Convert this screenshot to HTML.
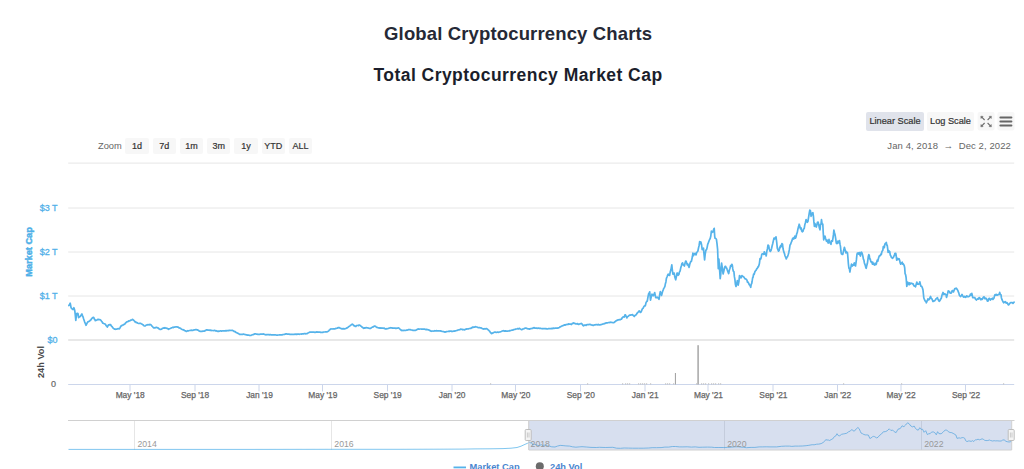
<!DOCTYPE html>
<html><head><meta charset="utf-8"><title>Global Cryptocurrency Charts</title>
<style>
html,body{margin:0;padding:0;background:#fff;}
body{width:1024px;height:469px;position:relative;overflow:hidden;font-family:"Liberation Sans",sans-serif;}
.t{position:absolute;white-space:nowrap;line-height:1;}
.h1{left:0;width:1036.3px;text-align:center;top:24.5px;font-size:18.5px;font-weight:bold;color:#262936;letter-spacing:0.14px}
.h2{left:0;width:1036px;text-align:center;top:66.5px;font-size:17.5px;font-weight:bold;color:#1b1e2b;letter-spacing:0.46px}
.btn{position:absolute;top:138px;height:15.5px;width:23.3px;background:#f7f7f7;border-radius:2px;text-align:center;font-size:9px;line-height:16.6px;color:#333;-webkit-text-stroke:0.2px #333;}
.sbtn{position:absolute;top:112px;height:18.5px;border-radius:2px;text-align:center;font-size:9.2px;line-height:19px;color:#333;-webkit-text-stroke:0.2px #333;background:#f7f7f7}
.yl{position:absolute;right:966.5px;font-size:9px;line-height:10px;color:#52b1e9;white-space:nowrap;-webkit-text-stroke:0.3px #52b1e9}
.xl{position:absolute;top:389.9px;font-size:8.4px;line-height:10px;color:#666;white-space:nowrap;transform:translateX(-50%);-webkit-text-stroke:0.25px #666}
.nl{position:absolute;top:438.6px;font-size:8.7px;line-height:10px;color:#999;white-space:nowrap}
.rot{position:absolute;white-space:nowrap;font-weight:bold;font-size:9.2px;line-height:10px;transform:translate(-50%,-50%) rotate(-90deg);}
.lg{position:absolute;top:462.1px;font-size:9.3px;line-height:10.5px;font-weight:bold;color:#4a86cf;white-space:nowrap}
</style></head><body>
<svg width="1024" height="469" viewBox="0 0 1024 469" style="position:absolute;left:0;top:0">
<g stroke="#e6e6e6" stroke-width="1">
<line x1="68.2" x2="1014.2" y1="163.1" y2="163.1"/>
<line x1="68.2" x2="1014.2" y1="208" y2="208"/>
<line x1="68.2" x2="1014.2" y1="252" y2="252"/>
<line x1="68.2" x2="1014.2" y1="296" y2="296"/>
</g>
<line x1="68.2" x2="1014.2" y1="340" y2="340" stroke="#e8e8e8" stroke-width="2"/>
<g stroke="#ccd6eb" stroke-width="1">
<line x1="68.2" x2="1014.2" y1="384.5" y2="384.5"/>
<line x1="130.0" x2="130.0" y1="384.5" y2="391.4"/>
<line x1="195.0" x2="195.0" y1="384.5" y2="391.4"/>
<line x1="259.0" x2="259.0" y1="384.5" y2="391.4"/>
<line x1="322.5" x2="322.5" y1="384.5" y2="391.4"/>
<line x1="387.5" x2="387.5" y1="384.5" y2="391.4"/>
<line x1="452.0" x2="452.0" y1="384.5" y2="391.4"/>
<line x1="515.5" x2="515.5" y1="384.5" y2="391.4"/>
<line x1="580.5" x2="580.5" y1="384.5" y2="391.4"/>
<line x1="645.0" x2="645.0" y1="384.5" y2="391.4"/>
<line x1="708.0" x2="708.0" y1="384.5" y2="391.4"/>
<line x1="773.0" x2="773.0" y1="384.5" y2="391.4"/>
<line x1="837.5" x2="837.5" y1="384.5" y2="391.4"/>
<line x1="901.0" x2="901.0" y1="384.5" y2="391.4"/>
<line x1="965.5" x2="965.5" y1="384.5" y2="391.4"/>
</g>
<g fill="#a6a6a6">
<rect x="697.35" y="345.2" width="1.5" height="39.3"/>
<rect x="674.9" y="373" width="1.1" height="11.5"/>
</g>
<g fill="#c2c2c2">
<rect x="587" y="383.3" width="1.2" height="1.2"/>
<rect x="622" y="383.3" width="1.2" height="1.2"/>
<rect x="625" y="383.3" width="1.2" height="1.2"/>
<rect x="627" y="383.3" width="1.2" height="1.2"/>
<rect x="629" y="383.3" width="1.2" height="1.2"/>
<rect x="638" y="383.3" width="1.2" height="1.2"/>
<rect x="640" y="383.3" width="1.2" height="1.2"/>
<rect x="642" y="383.3" width="1.2" height="1.2"/>
<rect x="644" y="383.3" width="1.2" height="1.2"/>
<rect x="646" y="383.3" width="1.2" height="1.2"/>
<rect x="650" y="383.3" width="1.2" height="1.2"/>
<rect x="665" y="383.3" width="1.2" height="1.2"/>
<rect x="667" y="383.3" width="1.2" height="1.2"/>
<rect x="669" y="383.3" width="1.2" height="1.2"/>
<rect x="673" y="383.3" width="1.2" height="1.2"/>
<rect x="696" y="383.3" width="1.2" height="1.2"/>
<rect x="701" y="383.3" width="1.2" height="1.2"/>
<rect x="703" y="383.3" width="1.2" height="1.2"/>
<rect x="705" y="383.3" width="1.2" height="1.2"/>
<rect x="708" y="383.3" width="1.2" height="1.2"/>
<rect x="711" y="383.3" width="1.2" height="1.2"/>
<rect x="713" y="383.3" width="1.2" height="1.2"/>
<rect x="715" y="383.3" width="1.2" height="1.2"/>
<rect x="718" y="383.3" width="1.2" height="1.2"/>
<rect x="720" y="383.3" width="1.2" height="1.2"/>
<rect x="490" y="383.3" width="1.2" height="1.2"/>
<rect x="843" y="383.3" width="1.2" height="1.2"/>
<rect x="901" y="383.3" width="1.2" height="1.2"/>
<rect x="1003" y="383.3" width="1.2" height="1.2"/>
</g>
<path d="M68.9,305.6 L69.6,304.6 L70.2,303.2 L70.7,305.6 L71.1,307.8 L71.8,308.4 L72.4,309.3 L73.0,309.6 L73.5,308.9 L73.9,307.7 L74.4,309.3 L74.8,310.8 L75.3,315.1 L75.8,320.5 L76.2,317.1 L76.7,313.6 L77.3,313.4 L78.0,313.6 L78.6,317.6 L79.2,317.1 L79.8,316.8 L80.4,316.2 L80.9,315.6 L81.4,314.6 L81.9,314.0 L82.5,315.6 L83.0,316.8 L83.6,318.8 L84.1,320.2 L84.7,322.1 L85.4,323.6 L86.0,325.3 L86.6,324.1 L87.2,322.9 L87.8,321.9 L88.5,321.7 L89.1,321.3 L89.7,321.0 L90.2,320.3 L90.8,320.0 L91.4,319.0 L91.9,318.4 L92.5,317.8 L93.1,317.3 L93.8,317.6 L94.3,319.0 L94.8,319.4 L95.3,320.6 L95.8,320.5 L96.4,320.1 L96.9,320.1 L97.5,319.8 L98.0,319.2 L98.6,319.6 L99.2,319.6 L99.8,319.7 L100.4,319.8 L101.0,320.5 L101.6,321.3 L102.1,321.9 L102.7,323.1 L103.2,323.2 L103.8,323.5 L104.3,323.7 L104.9,324.0 L105.5,324.3 L106.1,325.6 L106.7,326.1 L107.3,327.0 L108.0,325.8 L108.6,324.8 L109.2,324.9 L109.9,324.6 L110.5,324.5 L111.1,325.7 L111.7,326.3 L112.3,326.9 L112.9,327.9 L113.5,328.5 L114.1,328.8 L114.7,329.2 L115.3,329.2 L115.9,329.3 L116.5,329.1 L117.1,329.0 L117.6,328.9 L118.2,328.6 L118.8,328.8 L119.4,328.8 L120.0,327.9 L120.6,326.6 L121.2,325.8 L121.8,325.8 L122.3,325.1 L122.9,325.0 L123.5,325.0 L124.0,324.3 L124.6,324.2 L125.1,323.6 L125.7,322.9 L126.2,322.4 L126.8,321.9 L127.4,321.7 L127.9,321.7 L128.5,321.1 L129.0,320.9 L129.6,321.0 L130.1,320.6 L130.7,320.0 L131.2,320.1 L131.8,320.0 L132.4,319.4 L132.9,319.5 L133.5,320.2 L134.0,320.7 L134.6,321.2 L135.1,322.0 L135.7,321.9 L136.3,322.6 L136.8,322.5 L137.4,322.7 L137.9,323.3 L138.5,323.5 L139.0,323.5 L139.6,323.4 L140.2,323.3 L140.7,323.3 L141.2,323.7 L141.8,324.0 L142.3,324.4 L142.8,324.8 L143.4,325.1 L143.9,325.6 L144.4,326.0 L145.0,326.0 L145.5,325.7 L146.0,325.3 L146.5,325.0 L147.1,324.9 L147.6,324.9 L148.1,324.5 L148.7,324.7 L149.2,325.0 L149.8,324.4 L150.4,324.5 L150.9,324.8 L151.5,325.5 L152.0,326.1 L152.6,326.6 L153.1,327.4 L153.7,327.9 L154.3,327.7 L154.8,328.0 L155.4,327.7 L155.9,327.4 L156.5,327.3 L157.0,327.6 L157.5,327.9 L158.1,327.9 L158.6,328.4 L159.1,329.0 L159.7,329.1 L160.2,329.5 L160.7,329.4 L161.3,329.2 L161.8,329.1 L162.3,328.4 L162.8,328.2 L163.4,328.0 L163.9,327.9 L164.5,328.1 L165.0,327.7 L165.6,328.1 L166.1,328.0 L166.7,328.3 L167.3,328.4 L167.9,328.8 L168.5,329.3 L169.1,328.9 L169.6,328.7 L170.1,328.5 L170.7,328.2 L171.2,327.9 L171.7,327.8 L172.3,327.6 L172.8,327.3 L173.4,327.6 L174.0,327.1 L174.6,327.2 L175.2,327.0 L175.7,326.9 L176.3,326.9 L176.9,326.8 L177.4,327.1 L178.0,327.1 L178.5,327.3 L179.0,327.8 L179.5,327.9 L180.1,328.2 L180.6,328.3 L181.2,329.0 L181.7,329.3 L182.3,329.6 L182.8,329.6 L183.4,329.9 L183.9,330.0 L184.5,330.5 L185.1,330.9 L185.6,330.9 L186.2,331.4 L186.7,331.3 L187.2,331.0 L187.8,330.7 L188.3,330.9 L188.8,330.7 L189.4,330.5 L189.9,330.5 L190.4,330.4 L191.0,330.5 L191.5,330.2 L192.0,330.3 L192.6,330.3 L193.1,330.3 L193.7,330.0 L194.2,329.8 L194.8,329.9 L195.3,329.7 L195.8,329.7 L196.4,329.7 L196.9,329.8 L197.4,329.8 L198.0,330.2 L198.5,330.3 L199.0,330.9 L199.6,331.2 L200.1,331.3 L200.6,331.3 L201.1,331.4 L201.7,331.3 L202.2,331.3 L202.7,331.2 L203.3,331.2 L203.8,331.2 L204.4,331.1 L204.9,330.7 L205.5,330.6 L206.0,330.1 L206.6,329.9 L207.2,329.8 L207.7,330.2 L208.3,330.0 L208.9,330.2 L209.4,330.2 L210.0,330.3 L210.6,330.2 L211.1,330.3 L211.7,330.6 L212.3,330.5 L212.9,330.5 L213.4,330.6 L214.0,330.5 L214.5,330.4 L215.1,330.6 L215.6,330.9 L216.1,330.7 L216.7,330.9 L217.2,331.2 L217.7,331.3 L218.3,331.2 L218.8,331.3 L219.4,331.2 L219.9,331.0 L220.4,330.9 L221.0,330.9 L221.5,331.1 L222.1,331.0 L222.6,330.9 L223.2,330.9 L223.7,330.8 L224.3,330.9 L224.8,330.8 L225.4,330.9 L225.9,330.6 L226.4,330.8 L227.0,330.7 L227.5,330.5 L228.1,330.7 L228.7,330.6 L229.2,330.4 L229.8,330.4 L230.3,330.5 L230.9,330.4 L231.4,330.5 L232.0,330.4 L232.6,330.4 L233.1,330.7 L233.6,331.1 L234.1,331.4 L234.7,331.6 L235.2,331.7 L235.7,332.2 L236.3,332.6 L236.8,332.8 L237.3,333.0 L237.9,333.4 L238.4,333.5 L238.9,333.8 L239.5,334.3 L240.0,334.4 L240.5,334.4 L241.0,334.5 L241.6,334.3 L242.1,334.3 L242.6,334.3 L243.2,334.2 L243.7,334.2 L244.2,334.3 L244.8,334.5 L245.3,334.6 L245.8,334.7 L246.3,334.8 L246.9,334.9 L247.4,335.1 L248.0,335.2 L248.5,335.2 L249.1,335.2 L249.6,335.5 L250.2,335.5 L250.8,335.5 L251.3,335.1 L251.9,335.0 L252.5,334.8 L253.1,334.6 L253.7,334.4 L254.3,334.1 L254.8,333.9 L255.4,333.8 L255.9,334.0 L256.4,334.1 L257.0,334.1 L257.5,334.3 L258.0,334.4 L258.6,334.3 L259.1,334.3 L259.7,334.3 L260.3,334.2 L260.9,334.2 L261.5,334.1 L262.0,334.2 L262.6,334.2 L263.2,333.9 L263.8,334.0 L264.3,334.4 L264.9,334.5 L265.4,334.7 L266.0,334.8 L266.5,334.7 L267.1,334.7 L267.6,334.6 L268.2,334.6 L268.8,334.7 L269.3,334.8 L269.9,334.7 L270.4,334.7 L271.0,334.8 L271.5,334.8 L272.1,334.8 L272.7,334.8 L273.2,334.8 L273.8,334.9 L274.3,334.9 L274.9,334.9 L275.4,334.9 L276.0,335.0 L276.6,335.1 L277.1,335.1 L277.7,335.1 L278.2,335.0 L278.8,335.0 L279.3,334.9 L279.9,334.9 L280.4,334.9 L281.0,334.9 L281.6,334.8 L282.1,334.8 L282.7,334.7 L283.2,334.5 L283.7,334.5 L284.3,334.3 L284.8,334.3 L285.3,334.1 L285.9,333.9 L286.4,333.8 L286.9,334.1 L287.5,334.1 L288.1,334.0 L288.6,334.1 L289.2,334.2 L289.7,334.3 L290.3,334.3 L290.8,334.4 L291.4,334.4 L292.0,334.4 L292.5,334.4 L293.1,334.5 L293.6,334.4 L294.2,334.4 L294.7,334.2 L295.3,334.2 L295.8,334.3 L296.4,334.2 L297.0,334.3 L297.5,334.2 L298.1,334.2 L298.6,334.1 L299.2,334.3 L299.7,334.2 L300.3,334.0 L300.9,334.0 L301.4,334.1 L302.0,333.9 L302.5,333.9 L303.1,333.9 L303.6,333.8 L304.1,333.7 L304.7,333.7 L305.2,333.7 L305.7,333.8 L306.3,333.7 L306.8,333.7 L307.4,333.4 L307.9,333.1 L308.5,332.8 L309.0,332.5 L309.6,332.1 L310.2,332.2 L310.7,332.1 L311.3,332.1 L311.9,332.2 L312.5,332.1 L313.1,332.2 L313.6,332.1 L314.2,332.2 L314.7,332.3 L315.3,332.3 L315.8,332.2 L316.3,332.1 L316.9,331.9 L317.4,332.1 L317.9,332.0 L318.5,332.2 L319.0,332.1 L319.5,332.2 L320.1,332.1 L320.6,332.4 L321.1,332.5 L321.6,332.4 L322.2,332.4 L322.8,332.4 L323.3,332.1 L323.9,332.0 L324.4,332.0 L325.0,331.9 L325.5,331.8 L326.1,331.9 L326.7,331.8 L327.2,331.8 L327.7,331.5 L328.3,331.2 L328.8,330.8 L329.3,330.1 L329.9,329.7 L330.4,329.2 L330.9,328.8 L331.4,328.9 L332.0,329.0 L332.5,329.0 L333.0,328.8 L333.6,328.8 L334.1,328.9 L334.6,328.9 L335.2,328.7 L335.7,328.6 L336.2,328.3 L336.7,328.3 L337.3,328.1 L337.8,327.9 L338.3,327.6 L338.9,327.8 L339.4,327.6 L339.9,328.0 L340.5,328.3 L341.0,328.4 L341.5,328.7 L342.1,329.0 L342.6,328.7 L343.1,328.8 L343.6,328.7 L344.2,328.8 L344.7,328.8 L345.2,328.7 L345.8,328.5 L346.3,328.2 L346.8,327.9 L347.4,327.8 L347.9,327.4 L348.4,326.9 L348.9,326.5 L349.5,326.2 L350.0,325.8 L350.6,325.2 L351.1,324.9 L351.7,324.5 L352.3,324.1 L352.8,324.6 L353.3,324.9 L353.8,325.7 L354.4,325.7 L354.9,326.2 L355.4,326.5 L355.9,326.4 L356.5,325.6 L357.0,325.5 L357.5,325.5 L358.1,325.4 L358.6,325.6 L359.1,325.1 L359.7,325.0 L360.2,325.5 L360.7,326.0 L361.3,326.4 L361.8,326.8 L362.3,327.3 L362.9,327.6 L363.4,328.4 L363.9,328.0 L364.5,327.9 L365.1,328.1 L365.6,327.7 L366.2,327.5 L366.7,327.8 L367.2,327.8 L367.8,327.8 L368.3,328.0 L368.8,328.2 L369.4,328.4 L369.9,328.4 L370.5,328.4 L371.0,328.1 L371.6,327.6 L372.2,327.3 L372.8,326.9 L373.4,326.8 L373.9,326.3 L374.5,326.1 L375.1,326.2 L375.6,326.4 L376.1,326.9 L376.6,327.3 L377.2,327.4 L377.7,327.5 L378.2,328.0 L378.8,327.9 L379.3,327.9 L379.8,328.1 L380.4,328.1 L380.9,327.9 L381.4,328.2 L381.9,328.0 L382.5,328.2 L383.1,328.1 L383.7,328.3 L384.3,328.2 L384.8,328.7 L385.4,328.9 L386.0,328.8 L386.6,328.8 L387.1,328.5 L387.6,328.7 L388.2,328.5 L388.7,328.3 L389.2,328.1 L389.8,328.0 L390.3,327.7 L390.8,327.9 L391.4,327.8 L391.9,327.9 L392.4,328.1 L392.9,328.2 L393.5,328.2 L394.0,328.1 L394.6,328.2 L395.2,328.1 L395.7,328.4 L396.3,328.3 L396.9,328.2 L397.5,328.1 L398.1,328.0 L398.6,327.9 L399.2,328.4 L399.8,329.0 L400.3,329.5 L400.9,329.9 L401.4,330.6 L402.0,330.3 L402.5,330.3 L403.0,330.7 L403.5,330.3 L404.1,330.3 L404.6,330.4 L405.1,330.5 L405.7,330.4 L406.2,330.2 L406.7,330.2 L407.3,330.1 L407.8,330.0 L408.3,329.6 L408.8,329.5 L409.4,329.7 L409.9,329.7 L410.5,329.7 L411.0,330.0 L411.6,330.0 L412.1,330.1 L412.6,330.3 L413.2,330.3 L413.7,330.4 L414.3,330.4 L414.8,330.3 L415.3,330.4 L415.9,330.2 L416.5,329.8 L417.0,329.5 L417.6,329.4 L418.1,328.9 L418.7,329.0 L419.3,329.2 L419.9,329.0 L420.4,329.0 L421.0,329.0 L421.6,329.2 L422.2,329.1 L422.8,329.1 L423.3,329.0 L423.8,329.1 L424.4,329.2 L424.9,329.1 L425.4,329.5 L425.9,329.6 L426.5,329.4 L427.1,329.6 L427.7,329.7 L428.3,329.8 L428.9,330.1 L429.4,330.1 L429.9,330.5 L430.5,331.0 L431.0,331.1 L431.5,331.3 L432.1,331.1 L432.6,331.0 L433.2,331.0 L433.7,331.1 L434.3,330.9 L434.8,330.7 L435.4,331.0 L436.0,330.8 L436.5,330.7 L437.1,330.8 L437.6,330.9 L438.2,330.8 L438.7,330.8 L439.3,330.9 L439.9,331.0 L440.4,330.9 L441.0,331.1 L441.6,331.2 L442.1,331.4 L442.7,331.5 L443.3,331.6 L443.9,331.7 L444.5,331.9 L445.0,332.1 L445.6,331.9 L446.1,331.8 L446.6,331.6 L447.2,331.5 L447.7,331.5 L448.2,331.5 L448.8,331.2 L449.3,331.2 L449.9,331.3 L450.5,331.1 L451.1,331.3 L451.7,331.2 L452.2,331.4 L452.8,331.3 L453.4,331.2 L453.9,331.2 L454.5,331.1 L455.0,330.9 L455.5,330.9 L456.0,330.7 L456.6,330.5 L457.1,330.5 L457.6,330.1 L458.2,330.0 L458.7,329.9 L459.2,329.8 L459.8,329.6 L460.3,329.4 L460.8,329.1 L461.4,329.3 L461.9,329.5 L462.4,329.4 L462.9,329.8 L463.5,329.6 L464.0,329.7 L464.5,329.8 L465.1,329.7 L465.6,329.3 L466.1,328.9 L466.7,329.1 L467.2,329.0 L467.7,328.9 L468.2,329.0 L468.8,328.7 L469.3,328.5 L469.8,328.5 L470.4,328.3 L470.9,328.4 L471.4,327.9 L472.0,327.8 L472.5,327.1 L473.1,327.4 L473.6,327.1 L474.2,327.1 L474.7,327.2 L475.3,326.7 L475.8,326.8 L476.3,326.9 L476.9,327.0 L477.4,327.2 L477.9,327.5 L478.4,327.7 L479.1,327.7 L479.7,327.7 L480.3,327.8 L480.9,327.8 L481.4,328.0 L482.0,328.4 L482.5,328.7 L483.1,328.8 L483.6,329.1 L484.1,329.0 L484.7,328.7 L485.2,328.9 L485.7,328.8 L486.3,328.5 L486.8,328.8 L487.4,329.2 L488.0,329.7 L488.7,330.2 L489.2,330.8 L489.8,331.4 L490.3,332.3 L490.9,332.9 L491.4,333.6 L492.0,333.4 L492.5,333.1 L493.1,332.9 L493.7,332.6 L494.2,332.3 L494.8,332.1 L495.4,332.2 L496.0,332.3 L496.5,332.4 L497.1,332.2 L497.7,332.2 L498.3,332.3 L498.9,332.2 L499.4,332.0 L500.0,332.0 L500.6,331.7 L501.2,331.5 L501.8,331.2 L502.3,331.0 L502.9,330.8 L503.5,330.7 L504.0,330.9 L504.6,331.1 L505.1,330.9 L505.6,330.9 L506.1,331.1 L506.7,331.0 L507.2,331.2 L507.7,331.2 L508.3,331.0 L508.8,331.0 L509.3,330.7 L509.9,330.8 L510.4,330.6 L510.9,330.5 L511.5,330.3 L512.1,330.1 L512.7,330.1 L513.2,329.9 L513.8,329.6 L514.4,329.5 L515.0,329.4 L515.6,329.1 L516.1,329.0 L516.6,329.0 L517.1,328.9 L517.7,328.5 L518.2,328.9 L518.7,328.9 L519.3,328.3 L519.9,328.7 L520.5,329.0 L521.1,329.4 L521.7,329.7 L522.2,329.4 L522.7,329.0 L523.3,329.0 L523.8,328.9 L524.3,328.5 L524.9,328.2 L525.4,328.2 L526.0,328.1 L526.6,328.4 L527.1,328.5 L527.7,328.8 L528.3,328.8 L528.9,328.9 L529.5,329.1 L530.0,328.9 L530.5,328.7 L531.1,328.6 L531.6,328.5 L532.1,328.4 L532.7,328.4 L533.2,327.9 L533.7,327.9 L534.2,327.6 L534.8,328.2 L535.3,328.0 L535.8,328.1 L536.4,328.3 L536.9,328.1 L537.4,328.3 L538.0,328.3 L538.5,328.1 L539.0,328.3 L539.5,328.5 L540.1,328.2 L540.6,328.5 L541.2,328.5 L541.7,328.6 L542.3,328.6 L542.9,328.8 L543.5,328.6 L544.0,328.7 L544.6,328.6 L545.2,328.8 L545.7,328.6 L546.3,328.7 L546.9,329.0 L547.5,328.9 L548.0,328.8 L548.6,328.6 L549.1,328.5 L549.7,328.6 L550.3,328.7 L550.8,328.6 L551.4,328.6 L551.9,328.4 L552.5,328.6 L553.0,328.3 L553.6,328.2 L554.2,328.3 L554.8,328.2 L555.3,328.1 L555.9,328.1 L556.5,328.1 L557.1,328.2 L557.7,328.2 L558.2,327.9 L558.8,327.7 L559.4,327.4 L560.0,326.9 L560.6,326.8 L561.1,326.4 L561.7,326.0 L562.3,325.9 L562.9,325.7 L563.5,325.3 L564.0,325.2 L564.6,324.8 L565.2,325.2 L565.8,324.7 L566.4,324.7 L566.9,324.3 L567.5,324.3 L568.0,324.6 L568.6,323.8 L569.1,324.0 L569.6,324.2 L570.2,324.2 L570.7,324.0 L571.2,324.5 L571.8,324.1 L572.4,323.4 L573.0,323.5 L573.6,322.9 L574.2,323.5 L574.7,323.4 L575.3,323.6 L575.9,324.0 L576.4,324.0 L577.0,323.7 L577.5,323.7 L578.1,324.3 L578.6,324.5 L579.2,324.0 L579.8,323.9 L580.5,323.7 L581.1,323.4 L581.6,323.5 L582.2,324.3 L582.7,325.1 L583.3,325.8 L583.8,325.7 L584.4,325.0 L585.0,325.1 L585.5,325.1 L586.1,325.4 L586.6,324.8 L587.1,324.7 L587.7,324.6 L588.2,324.7 L588.7,324.5 L589.2,324.6 L589.8,324.3 L590.3,324.6 L590.9,324.7 L591.4,325.0 L592.0,325.1 L592.6,325.1 L593.1,325.4 L593.6,325.3 L594.1,325.0 L594.7,324.9 L595.2,325.0 L595.7,324.5 L596.3,324.5 L596.8,324.7 L597.3,324.8 L597.9,324.7 L598.4,324.4 L598.9,324.9 L599.5,324.9 L600.0,324.9 L600.5,324.7 L601.0,324.7 L601.6,324.5 L602.1,324.2 L602.6,324.1 L603.2,324.0 L603.7,323.9 L604.2,323.6 L604.8,323.7 L605.3,323.2 L605.8,323.2 L606.4,322.8 L606.9,322.8 L607.4,322.9 L608.0,322.7 L608.5,322.5 L609.0,322.5 L609.5,322.6 L610.1,322.2 L610.6,322.3 L611.1,322.5 L611.7,322.4 L612.2,322.5 L612.8,322.6 L613.4,322.6 L613.9,322.7 L614.5,322.2 L615.0,321.7 L615.6,321.3 L616.1,320.8 L616.7,320.4 L617.2,320.3 L617.8,319.8 L618.3,319.9 L618.8,319.9 L619.3,319.6 L619.9,319.6 L620.4,319.7 L621.0,319.1 L621.5,319.2 L622.1,317.8 L622.6,317.6 L623.2,316.8 L623.8,316.8 L624.3,317.0 L624.9,315.1 L625.4,314.8 L625.9,316.0 L626.4,316.8 L626.9,317.9 L627.5,316.5 L628.1,316.5 L628.7,315.9 L629.3,315.2 L629.8,315.0 L630.4,315.2 L630.9,314.9 L631.4,315.0 L631.9,314.8 L632.5,314.6 L633.1,315.4 L633.7,315.9 L634.3,316.5 L634.9,315.5 L635.6,315.1 L636.2,314.8 L636.8,313.6 L637.4,312.9 L638.0,312.3 L638.6,311.5 L639.2,310.9 L639.7,311.7 L640.3,312.3 L640.8,312.3 L641.4,311.3 L641.9,309.9 L642.5,308.7 L643.0,308.3 L643.5,307.3 L644.0,306.3 L644.5,305.9 L645.0,306.0 L645.5,305.0 L646.0,302.6 L646.7,301.5 L647.3,301.0 L648.0,296.8 L648.6,293.8 L649.2,293.0 L649.7,291.8 L650.5,300.2 L651.0,297.8 L651.5,296.1 L652.0,294.2 L652.4,294.6 L652.9,295.5 L653.4,295.7 L654.1,294.0 L654.7,292.6 L655.2,295.1 L655.7,297.7 L656.3,297.7 L656.9,297.4 L657.5,297.2 L658.0,298.0 L658.5,298.5 L659.0,299.3 L659.7,294.7 L660.3,291.7 L661.0,293.8 L661.6,295.4 L662.1,293.3 L662.6,291.3 L663.1,290.1 L663.7,288.5 L664.3,287.6 L664.9,286.4 L665.4,283.7 L665.9,281.9 L666.4,278.4 L667.1,276.7 L667.7,274.9 L668.3,274.1 L669.0,275.3 L669.6,275.5 L670.2,272.1 L670.9,269.8 L671.3,267.6 L671.8,264.8 L672.4,270.6 L672.9,274.2 L673.6,273.1 L674.2,273.0 L674.7,276.5 L675.2,278.3 L675.7,279.8 L676.4,276.6 L677.0,273.1 L677.6,273.2 L678.2,275.3 L678.9,274.5 L679.5,271.9 L680.1,271.0 L680.7,268.1 L681.3,266.0 L681.9,263.6 L682.6,262.9 L683.2,264.9 L683.8,265.0 L684.4,266.0 L685.1,263.0 L685.7,261.0 L686.2,261.4 L686.7,262.9 L687.2,264.9 L687.8,264.0 L688.4,265.7 L689.1,267.4 L689.7,264.6 L690.3,262.5 L690.9,261.4 L691.4,261.3 L691.9,259.0 L692.4,256.8 L692.9,253.1 L693.5,255.6 L694.1,254.4 L694.7,253.6 L695.4,253.3 L696.0,254.9 L696.7,252.5 L697.3,251.8 L697.9,251.0 L698.5,248.0 L699.1,245.5 L699.7,241.5 L700.3,243.7 L700.9,242.0 L701.5,244.4 L702.2,249.7 L702.8,249.1 L703.5,248.2 L704.0,254.0 L704.6,259.9 L705.2,254.1 L705.9,250.1 L706.5,249.9 L707.1,247.6 L707.7,244.4 L708.3,242.9 L709.0,241.0 L709.6,239.5 L710.2,238.5 L710.8,236.0 L711.4,231.0 L712.1,232.4 L712.7,231.5 L713.2,231.8 L713.7,229.2 L714.2,228.3 L714.7,236.3 L715.1,238.3 L715.8,238.5 L716.4,239.2 L717.0,243.6 L717.6,249.4 L718.3,268.7 L718.9,259.1 L719.5,268.3 L720.2,278.7 L720.7,274.7 L721.1,268.5 L721.6,263.0 L722.1,266.5 L722.6,270.4 L723.1,274.0 L723.8,271.3 L724.4,268.1 L725.1,266.4 L725.7,266.4 L726.2,268.0 L726.7,268.0 L727.2,269.7 L727.7,271.2 L728.2,272.5 L728.7,273.5 L729.3,270.3 L730.0,268.3 L730.6,265.7 L731.2,266.0 L731.8,264.3 L732.3,265.0 L732.8,268.9 L733.3,271.2 L733.9,271.7 L734.4,276.7 L734.9,279.4 L735.4,284.3 L736.0,286.5 L736.7,283.8 L737.3,280.7 L737.8,282.9 L738.2,285.1 L738.9,281.6 L739.5,275.7 L740.0,276.1 L740.5,276.6 L741.0,277.9 L741.5,276.4 L741.9,275.6 L742.6,276.3 L743.2,276.6 L743.8,277.0 L744.4,277.9 L745.0,278.8 L745.7,278.8 L746.3,279.4 L746.9,280.0 L747.5,282.2 L748.1,282.1 L748.7,283.5 L749.4,284.9 L750.0,285.5 L750.7,287.3 L751.2,284.4 L751.7,283.5 L752.1,281.5 L752.6,278.0 L753.1,277.0 L753.6,274.1 L754.2,274.3 L754.8,272.0 L755.4,270.8 L756.0,270.3 L756.6,269.0 L757.3,268.4 L757.8,266.9 L758.3,266.9 L758.8,265.7 L759.4,263.6 L760.0,258.7 L760.6,259.2 L761.2,257.6 L761.8,254.2 L762.5,253.8 L763.1,254.1 L763.7,254.4 L764.3,251.8 L764.9,254.2 L765.6,253.5 L766.2,256.0 L766.8,251.4 L767.4,248.9 L768.0,245.1 L768.6,245.4 L769.3,249.0 L769.9,251.0 L770.4,251.4 L771.0,250.5 L771.6,248.3 L772.1,246.0 L772.7,243.7 L773.3,241.0 L774.0,238.1 L774.5,239.0 L775.0,238.6 L775.5,237.3 L776.0,236.9 L776.7,242.2 L777.3,248.1 L777.9,249.7 L778.5,251.1 L779.2,250.4 L779.7,247.1 L780.1,247.9 L780.6,245.6 L781.3,246.5 L781.9,243.7 L782.5,244.2 L783.1,249.0 L783.8,251.9 L784.4,253.3 L785.0,255.7 L785.7,257.4 L786.3,258.9 L786.9,257.3 L787.5,256.7 L788.1,255.0 L788.7,252.9 L789.4,249.4 L790.0,245.1 L790.6,244.3 L791.2,242.5 L791.8,241.2 L792.5,238.7 L793.1,238.0 L793.7,239.0 L794.3,237.8 L794.9,236.0 L795.5,238.2 L796.1,236.6 L796.7,233.8 L797.3,232.4 L798.0,228.7 L798.6,226.6 L799.2,224.2 L799.8,226.2 L800.4,228.9 L801.1,228.0 L801.7,231.0 L802.3,231.8 L802.9,231.4 L803.6,229.0 L804.2,228.6 L804.8,224.9 L805.4,222.7 L806.1,219.5 L806.7,220.8 L807.3,222.3 L807.9,221.5 L808.5,217.8 L809.2,213.4 L809.8,210.1 L810.4,210.6 L811.1,216.3 L811.7,214.8 L812.3,213.0 L812.9,212.7 L813.4,216.1 L813.9,221.9 L814.4,226.4 L815.0,223.7 L815.7,226.1 L816.3,227.1 L816.9,224.7 L817.5,222.2 L818.1,222.0 L818.7,224.4 L819.4,228.0 L820.0,229.8 L820.5,224.6 L821.0,224.0 L821.5,219.5 L822.1,224.2 L822.8,224.1 L823.2,232.1 L823.7,239.9 L824.3,236.9 L825.0,236.1 L825.5,238.2 L826.0,239.8 L826.5,241.3 L827.1,240.1 L827.7,241.8 L828.3,243.1 L829.0,239.3 L829.5,242.2 L830.0,242.5 L830.5,243.5 L831.0,244.3 L831.4,240.9 L831.9,241.5 L832.4,241.3 L832.9,238.6 L833.4,234.9 L833.9,230.1 L834.5,232.8 L835.1,235.0 L835.7,238.6 L836.3,243.2 L836.9,243.7 L837.4,243.3 L837.9,241.1 L838.5,242.5 L839.0,242.9 L839.5,240.5 L840.0,244.2 L840.5,246.6 L840.9,251.0 L841.4,253.8 L841.8,254.1 L842.3,254.4 L842.8,254.3 L843.4,251.4 L843.9,249.6 L844.4,247.3 L845.0,249.4 L845.5,251.4 L846.0,252.9 L846.5,251.6 L847.0,252.4 L847.5,252.8 L848.0,258.8 L848.4,264.0 L848.9,268.2 L849.4,268.7 L849.9,272.0 L850.4,268.8 L850.9,266.9 L851.5,264.2 L851.9,265.7 L852.4,266.0 L852.9,264.9 L853.3,264.5 L853.8,265.2 L854.3,262.9 L854.9,264.2 L855.5,266.0 L855.9,263.4 L856.4,259.9 L856.9,254.8 L857.4,253.1 L857.9,253.3 L858.3,252.8 L858.8,254.2 L859.4,252.6 L859.9,254.9 L860.4,256.0 L860.9,252.8 L861.4,252.1 L861.8,252.5 L862.4,254.2 L862.9,256.4 L863.4,259.1 L863.9,260.1 L864.4,263.0 L864.8,264.2 L865.3,265.4 L865.8,267.6 L866.2,268.3 L866.8,265.4 L867.4,263.3 L867.9,259.7 L868.3,256.5 L868.8,254.6 L869.3,255.7 L869.7,258.8 L870.2,258.9 L870.8,261.5 L871.4,262.4 L871.9,261.9 L872.4,264.1 L872.9,262.4 L873.4,264.3 L874.0,264.1 L874.6,265.0 L875.2,263.2 L875.8,264.7 L876.3,264.2 L876.8,261.8 L877.3,260.1 L877.8,261.2 L878.3,259.0 L878.8,257.2 L879.3,255.9 L879.8,256.0 L880.3,255.2 L880.8,254.1 L881.3,254.7 L881.8,252.1 L882.3,250.8 L882.8,250.4 L883.3,246.5 L883.8,246.4 L884.3,247.7 L884.8,244.3 L885.3,243.3 L885.8,243.3 L886.3,242.5 L886.7,245.0 L887.2,245.0 L887.7,248.8 L888.1,252.3 L888.7,250.6 L889.2,252.0 L889.7,251.5 L890.3,255.1 L890.8,255.7 L891.3,257.3 L891.8,257.6 L892.3,258.3 L892.8,257.6 L893.3,257.7 L893.8,256.2 L894.3,255.7 L894.8,253.6 L895.3,253.4 L895.8,253.4 L896.2,255.9 L896.7,260.2 L897.2,259.6 L897.7,258.3 L898.2,259.4 L898.7,258.8 L899.2,258.9 L899.7,260.4 L900.2,263.0 L900.7,264.2 L901.2,263.7 L901.7,262.8 L902.2,262.2 L902.8,264.2 L903.3,263.9 L903.7,264.8 L904.2,265.5 L904.7,267.9 L905.1,273.8 L905.6,274.6 L906.1,277.5 L906.8,286.4 L907.2,284.3 L907.7,282.2 L908.1,282.7 L908.6,284.0 L909.1,284.8 L909.6,282.8 L910.3,284.1 L910.9,283.2 L911.5,283.3 L912.0,283.4 L912.5,283.8 L913.2,283.8 L913.8,285.7 L914.4,286.2 L915.0,286.0 L915.5,286.9 L916.2,284.3 L916.8,282.1 L917.5,284.1 L918.1,284.1 L918.7,284.3 L919.3,283.1 L919.8,281.8 L920.3,283.8 L920.8,286.2 L921.4,286.0 L922.1,287.1 L922.5,288.2 L923.0,290.0 L923.8,298.0 L924.4,299.3 L925.1,300.9 L925.7,301.2 L926.4,302.8 L926.9,301.5 L927.4,300.4 L927.9,298.9 L928.6,299.8 L929.3,299.4 L929.9,297.9 L930.6,296.5 L931.2,298.5 L931.9,298.8 L932.4,300.0 L932.9,301.4 L933.4,301.4 L934.0,300.9 L934.5,301.0 L935.0,300.3 L935.5,299.7 L936.1,298.8 L936.7,298.5 L937.4,297.6 L938.0,299.1 L938.7,300.5 L939.2,301.3 L939.7,300.9 L940.2,300.0 L940.8,298.8 L941.3,298.3 L941.9,295.6 L942.4,294.0 L943.0,292.5 L943.5,293.2 L943.9,294.6 L944.4,293.8 L945.0,294.1 L945.5,294.2 L946.0,294.8 L946.5,297.4 L947.1,295.4 L947.7,293.2 L948.2,290.9 L948.9,291.7 L949.5,291.4 L950.0,293.0 L950.5,293.1 L951.0,293.2 L951.6,292.4 L952.2,290.5 L952.8,290.5 L953.5,291.9 L954.1,290.3 L954.8,288.7 L955.4,288.7 L956.1,288.1 L956.7,288.7 L957.4,289.8 L957.9,290.5 L958.3,291.9 L958.8,292.9 L959.4,295.4 L960.0,296.0 L960.7,296.5 L961.3,295.6 L962.0,294.4 L962.5,295.4 L963.0,296.3 L963.5,297.1 L964.1,297.0 L964.7,296.5 L965.2,297.3 L965.7,297.2 L966.2,296.6 L966.7,295.8 L967.2,296.4 L967.7,296.7 L968.2,296.6 L968.7,296.7 L969.2,296.3 L969.8,295.8 L970.5,294.1 L971.1,295.0 L971.8,293.4 L972.2,294.9 L972.7,297.6 L973.3,297.5 L973.8,297.6 L974.4,297.6 L974.9,297.7 L975.4,299.0 L975.9,299.4 L976.4,300.1 L976.9,299.3 L977.4,299.1 L977.9,298.6 L978.5,299.0 L979.1,297.6 L979.6,297.8 L980.3,299.0 L980.9,299.9 L981.6,298.8 L982.3,299.3 L982.9,297.9 L983.6,297.0 L984.1,296.8 L984.5,298.1 L985.0,298.9 L985.5,298.2 L986.1,298.3 L986.7,299.0 L987.3,300.9 L987.9,301.2 L988.4,300.0 L988.9,298.6 L989.5,298.4 L989.9,299.4 L990.4,300.1 L990.9,299.3 L991.4,298.8 L991.9,298.8 L992.4,298.2 L992.9,299.4 L993.4,298.9 L994.0,298.0 L994.7,295.1 L995.2,294.6 L995.7,295.0 L996.3,294.4 L996.8,295.2 L997.4,295.2 L998.0,294.7 L998.5,294.7 L999.1,294.5 L999.7,292.4 L1000.3,294.5 L1001.0,294.7 L1001.4,297.7 L1001.9,299.4 L1002.5,300.7 L1003.2,302.1 L1003.7,302.9 L1004.2,302.1 L1004.7,302.1 L1005.2,301.6 L1005.6,302.4 L1006.1,303.0 L1006.6,302.5 L1007.1,302.8 L1007.7,303.8 L1008.3,304.8 L1008.8,304.9 L1009.3,304.1 L1009.9,303.2 L1010.4,302.8 L1011.0,302.5 L1011.7,302.6 L1012.4,302.7 L1013.0,303.4 L1013.5,302.8 L1014.1,302.1" fill="none" stroke="#56b3ea" stroke-width="1.7" stroke-linejoin="round" stroke-linecap="round"/>
<g stroke="#e6e6e6" stroke-width="1" shape-rendering="crispEdges">
<line x1="134.5" x2="134.5" y1="420" y2="450"/>
<line x1="331.5" x2="331.5" y1="420" y2="450"/>
<line x1="528.5" x2="528.5" y1="420" y2="450"/>
<line x1="724.5" x2="724.5" y1="420" y2="450"/>
<line x1="921.5" x2="921.5" y1="420" y2="450"/>
</g>
<path d="M68.5,449.4 L134.0,449.4 L250.0,449.4 L331.0,449.3 L400.0,449.3 L440.0,449.2 L463.0,449.1 L475.0,448.9 L490.0,448.8 L503.0,448.6 L511.0,448.2 L517.0,447.5 L521.0,446.2 L524.0,444.8 L526.0,443.9 L527.5,443.3 L529.3,442.3 L530.4,442.8 L531.8,442.7 L532.8,445.3 L533.9,444.1 L535.1,444.4 L537.0,445.2 L538.9,445.6 L541.3,444.7 L542.7,445.4 L545.4,445.1 L547.9,446.1 L549.5,446.1 L551.7,446.8 L555.0,447.0 L557.4,446.1 L560.2,445.4 L563.1,445.6 L565.9,445.9 L569.7,446.1 L572.5,446.8 L575.9,447.2 L579.2,446.9 L582.0,446.7 L586.3,447.0 L591.0,447.4 L596.2,447.5 L599.5,447.3 L605.2,447.5 L612.8,447.3 L616.6,448.2 L620.4,448.3 L624.2,448.0 L628.4,448.1 L632.7,448.2 L638.4,448.2 L643.1,448.2 L648.8,448.0 L652.1,447.7 L656.4,447.7 L661.1,447.6 L664.9,447.1 L668.7,447.1 L672.5,446.5 L675.5,446.5 L679.6,446.9 L682.9,446.9 L687.2,446.8 L691.4,447.1 L695.2,446.9 L699.0,447.3 L702.8,447.2 L707.5,447.1 L711.8,447.2 L714.4,447.5 L718.9,447.5 L723.2,447.5 L727.4,447.4 L731.2,447.2 L735.0,446.8 L738.3,446.8 L740.7,447.1 L743.5,447.3 L746.4,447.7 L751.1,447.4 L754.9,447.4 L759.2,446.9 L762.3,446.9 L766.3,446.8 L770.0,446.9 L776.7,446.9 L781.4,446.3 L785.7,446.1 L789.5,446.1 L791.8,446.4 L795.1,446.1 L798.5,446.1 L802.3,446.0 L806.1,445.7 L808.9,445.3 L812.2,444.7 L814.1,444.8 L816.7,444.2 L818.8,444.1 L821.2,443.6 L823.1,442.5 L824.5,441.4 L825.8,439.6 L826.9,440.0 L828.3,440.0 L829.7,440.5 L831.1,439.6 L832.6,439.0 L834.3,436.7 L835.9,435.8 L837.0,433.7 L838.3,435.6 L839.7,435.8 L841.6,434.3 L843.5,433.9 L844.9,433.7 L846.8,433.2 L848.7,431.7 L850.3,431.1 L851.9,429.4 L853.2,430.9 L854.4,431.1 L856.3,428.8 L857.9,427.5 L859.1,428.6 L860.4,431.5 L861.0,433.0 L862.5,433.7 L863.9,434.5 L865.3,434.9 L866.7,434.9 L868.4,435.1 L869.8,438.4 L870.9,438.1 L872.4,436.8 L873.5,436.4 L874.7,436.7 L876.6,437.9 L878.0,437.3 L879.7,435.2 L881.4,434.1 L883.3,431.8 L885.2,431.7 L887.1,430.9 L889.2,428.8 L890.9,430.5 L892.6,430.0 L894.2,431.7 L896.1,432.6 L898.0,429.2 L900.2,428.6 L902.1,425.8 L903.9,426.7 L905.6,425.0 L907.5,422.8 L909.1,423.7 L910.8,426.0 L912.7,426.9 L914.1,426.0 L915.2,427.9 L916.9,429.8 L918.3,430.1 L919.8,427.7 L921.0,429.3 L922.6,429.3 L924.1,432.3 L925.7,430.7 L927.4,434.6 L928.7,433.8 L930.2,433.6 L931.5,432.1 L933.3,431.9 L934.8,432.7 L936.3,434.8 L937.6,431.7 L938.9,433.6 L941.1,433.8 L943.2,432.1 L945.2,430.0 L946.7,430.0 L948.3,431.7 L950.1,432.5 L951.8,432.7 L953.9,433.8 L955.9,435.0 L957.0,438.4 L957.9,438.1 L959.1,437.9 L960.6,438.2 L962.1,437.6 L963.6,437.7 L964.8,438.4 L965.6,440.6 L967.0,441.6 L968.4,441.0 L969.8,441.0 L971.1,441.4 L972.6,440.7 L973.8,441.5 L975.5,439.7 L976.5,439.8 L978.1,439.2 L979.3,439.8 L980.8,439.4 L982.1,438.8 L983.3,439.3 L984.5,440.2 L985.9,440.6 L987.8,440.5 L989.5,440.0 L990.6,440.5 L992.5,441.0 L994.2,440.7 L995.5,440.9 L997.2,440.8 L999.2,441.0 L1001.2,441.0 L1002.6,440.1 L1004.4,439.8 L1005.5,441.2 L1007.2,441.7 L1009.1,442.0 L1010.5,441.7 L1011.7,441.6" fill="none" stroke="#56b3ea" stroke-width="1" opacity="0.75"/>
<rect x="528.8" y="420" width="482.9000000000001" height="30" fill="rgba(102,133,194,0.26)"/>
<path d="M68,420.5 L1014.5,420.5 M528.8,420.5 L528.8,450 L1011.7,450 L1011.7,420.5" fill="none" stroke="#d0d0d0" stroke-width="1"/>
<rect x="525.2" y="429.5" width="6" height="11" fill="#f4f4f4" stroke="#bdbdbd" stroke-width="1" rx="1"/>
<path d="M527.4000000000001,432.5 V437.5 M529.0,432.5 V437.5" stroke="#b0b0b0" stroke-width="0.6"/>
<rect x="1008.2" y="429.5" width="6" height="11" fill="#f4f4f4" stroke="#bdbdbd" stroke-width="1" rx="1"/>
<path d="M1010.4000000000001,432.5 V437.5 M1012.0,432.5 V437.5" stroke="#b0b0b0" stroke-width="0.6"/>
<line x1="453.5" x2="466" y1="467.4" y2="467.4" stroke="#56b3ea" stroke-width="1.8"/>
<circle cx="539.8" cy="466.3" r="4" fill="#6b6b6b"/>
<rect x="977.6" y="112" width="17" height="18.5" rx="2" fill="#f7f7f7"/><rect x="997.4" y="112" width="17.1" height="18.5" rx="2" fill="#f7f7f7"/>
<g stroke="#6a6a6a" stroke-width="1.1" fill="#6a6a6a" stroke-linejoin="round">
<path d="M984.60,120.00 L981.80,117.20" fill="none"/>
<path d="M980.80,116.20 L983.10,116.40 L981.00,118.50 Z" stroke-width="0.5"/>
<path d="M987.60,120.00 L990.40,117.20" fill="none"/>
<path d="M991.40,116.20 L989.10,116.40 L991.20,118.50 Z" stroke-width="0.5"/>
<path d="M984.60,123.00 L981.80,125.80" fill="none"/>
<path d="M980.80,126.80 L983.10,126.60 L981.00,124.50 Z" stroke-width="0.5"/>
<path d="M987.60,123.00 L990.40,125.80" fill="none"/>
<path d="M991.40,126.80 L989.10,126.60 L991.20,124.50 Z" stroke-width="0.5"/>
</g>
<g stroke="#666" stroke-width="2" stroke-linecap="round">
<line x1="1000.4" x2="1011.4" y1="117.4" y2="117.4"/>
<line x1="1000.4" x2="1011.4" y1="121.5" y2="121.5"/>
<line x1="1000.4" x2="1011.4" y1="125.6" y2="125.6"/>
</g>
</svg>
<div class="t h1">Global Cryptocurrency Charts</div>
<div class="t h2">Total Cryptocurrency Market Cap</div>
<div class="t" style="left:98px;top:141.5px;font-size:9.3px;color:#666">Zoom</div>
<div class="btn" style="left:125.40px">1d</div>
<div class="btn" style="left:152.65px">7d</div>
<div class="btn" style="left:179.90px">1m</div>
<div class="btn" style="left:207.15px">3m</div>
<div class="btn" style="left:234.40px">1y</div>
<div class="btn" style="left:261.65px">YTD</div>
<div class="btn" style="left:288.90px">ALL</div>
<div class="sbtn" style="left:866px;width:58px;background:#e0e3eb">Linear Scale</div>
<div class="sbtn" style="left:926.6px;width:47.8px">Log Scale</div>
<div class="t" style="right:13px;top:141px;font-size:9.5px;color:#666;letter-spacing:0.1px" id="dr">Jan 4, 2018 &nbsp;→&nbsp; Dec 2, 2022</div>
<div class="yl" style="top:203px">$3 T</div>
<div class="yl" style="top:247px">$2 T</div>
<div class="yl" style="top:291px">$1 T</div>
<div class="yl" style="top:335px">$0</div>
<div class="yl" style="top:379px;color:#666;-webkit-text-stroke:0.2px #666;right:968px">0</div>
<div class="rot" style="left:29.0px;top:251.8px;color:#4fb0e8;-webkit-text-stroke:0.45px #4fb0e8">Market Cap</div>
<div class="rot" style="left:40.5px;top:362px;color:#4a4a4a">24h Vol</div>
<div class="xl" style="left:130.2px">May '18</div>
<div class="xl" style="left:195.1px">Sep '18</div>
<div class="xl" style="left:259.5px">Jan '19</div>
<div class="xl" style="left:322.8px">May '19</div>
<div class="xl" style="left:387.7px">Sep '19</div>
<div class="xl" style="left:452.1px">Jan '20</div>
<div class="xl" style="left:515.9px">May '20</div>
<div class="xl" style="left:580.8px">Sep '20</div>
<div class="xl" style="left:645.2px">Jan '21</div>
<div class="xl" style="left:708.5px">May '21</div>
<div class="xl" style="left:773.4px">Sep '21</div>
<div class="xl" style="left:837.7px">Jan '22</div>
<div class="xl" style="left:901.1px">May '22</div>
<div class="xl" style="left:966.0px">Sep '22</div>
<div class="nl" style="left:137.4px">2014</div>
<div class="nl" style="left:334.3px">2016</div>
<div class="nl" style="left:530.6px">2018</div>
<div class="nl" style="left:727.2px">2020</div>
<div class="nl" style="left:924.2px">2022</div>
<div class="lg" style="left:469.5px">Market Cap</div>
<div class="lg" style="left:550px">24h Vol</div>
</body></html>
